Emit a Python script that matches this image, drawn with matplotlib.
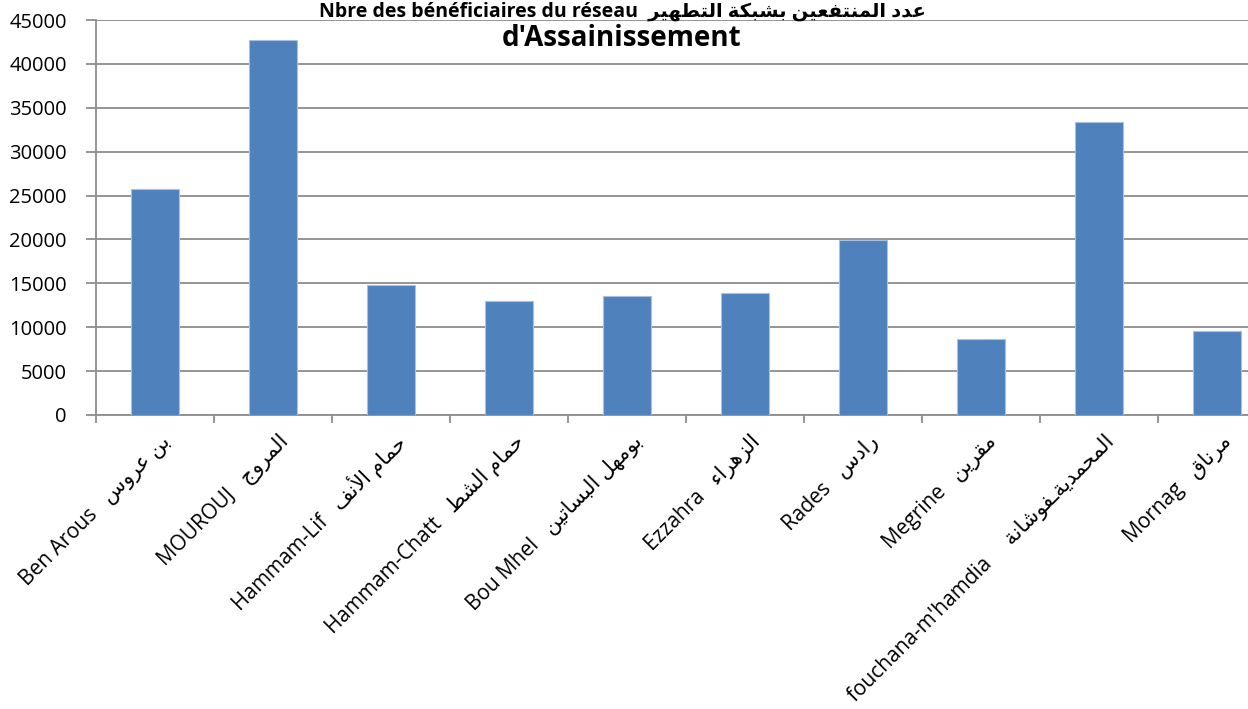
import matplotlib
matplotlib.use('Agg')
import matplotlib.pyplot as plt
import matplotlib.transforms as mtransforms
import numpy as np

# data
names_fr = ['Ben Arous', 'MOUROUJ', 'Hammam-Lif', 'Hammam-Chatt', 'Bou Mhel',
            'Ezzahra', 'Rades', 'Megrine', "fouchana-m'hamdia", 'Mornag']
names_ar = ['بن عروس', 'المروج', 'حمام الأنف', 'حمام الشط', 'بومهل البساتين',
            'الزهراء', 'رادس', 'مقرين', 'المحمديةـفوشانة', 'مرناق']
gaps = ['   ', '   ', '   ', '   ', '   ', '   ', '   ', '   ', '     ', '   ']
beneficiaires = [25800, 42700, 14800, 13000, 13600, 13850, 19900, 8700, 33400, 9550]
yticks = [0, 5000, 10000, 15000, 20000, 25000, 30000, 35000, 40000, 45000]
title_1 = 'Nbre des bénéficiaires du réseau'
title_1_ar = 'عدد المنتفعين بشبكة التطهير'
title_2 = "d'Assainissement"

# minimal arabic shaping (presentation forms), matplotlib has no bidi/shaping
FORMS = {
    'ء': (0xFE80, 'U'), 'آ': (0xFE81, 'R'), 'أ': (0xFE83, 'R'), 'إ': (0xFE87, 'R'),
    'ا': (0xFE8D, 'R'), 'ب': (0xFE8F, 'D'), 'ة': (0xFE93, 'R'), 'ت': (0xFE95, 'D'),
    'ج': (0xFE9D, 'D'), 'ح': (0xFEA1, 'D'), 'د': (0xFEA9, 'R'), 'ر': (0xFEAD, 'R'),
    'ز': (0xFEAF, 'R'), 'س': (0xFEB1, 'D'), 'ش': (0xFEB5, 'D'), 'ط': (0xFEC1, 'D'),
    'ع': (0xFEC9, 'D'), 'ف': (0xFED1, 'D'), 'ق': (0xFED5, 'D'), 'ك': (0xFED9, 'D'),
    'ل': (0xFEDD, 'D'), 'م': (0xFEE1, 'D'), 'ن': (0xFEE5, 'D'), 'ه': (0xFEE9, 'D'),
    'و': (0xFEED, 'R'), 'ي': (0xFEF1, 'D'),
}
LAM_ALEF = {'آ': 0xFEF5, 'أ': 0xFEF7, 'إ': 0xFEF9, 'ا': 0xFEFB}


def shape(text):
    tokens = []
    i = 0
    while i < len(text):
        if text[i] == 'ل' and i + 1 < len(text) and text[i + 1] in LAM_ALEF:
            tokens.append(('LA', text[i + 1]))
            i += 2
        else:
            tokens.append(text[i])
            i += 1

    def jt(t):
        if isinstance(t, tuple):
            return 'R'
        if t == 'ـ':
            return 'D'
        return FORMS[t][1] if t in FORMS else 'U'

    out = []
    for k, t in enumerate(tokens):
        prev = tokens[k - 1] if k > 0 else None
        nxt = tokens[k + 1] if k + 1 < len(tokens) else None
        jp = prev is not None and jt(prev) == 'D' and jt(t) != 'U'
        jn = nxt is not None and jt(t) == 'D' and jt(nxt) != 'U'
        if isinstance(t, tuple):
            out.append(chr(LAM_ALEF[t[1]] + int(jp)))
        elif t not in FORMS:
            out.append(t)
        else:
            base, kind = FORMS[t]
            if kind == 'U':
                out.append(chr(base))
            elif kind == 'R':
                out.append(chr(base + int(jp)))
            else:
                out.append(chr(base + [[0, 2], [1, 3]][jp][jn]))
    return ''.join(out)[::-1]


plt.rcParams['font.family'] = ['Open Sans', 'DejaVu Sans']

fig = plt.figure(figsize=(12.48, 7.09), dpi=100)
ax = fig.add_axes([96 / 1248, 1 - 415 / 709, 1180 / 1248, 395 / 709])

x = np.arange(len(beneficiaires))
ax.bar(x, beneficiaires, width=0.4, color='#4F81BD', edgecolor='#A9C1DF',
       linewidth=0.8, zorder=3)

ax.set_xlim(-0.5, len(x) - 0.5)
ax.set_ylim(0, 45000)
ax.set_yticks(yticks)
ax.set_yticklabels([str(v) for v in yticks], fontsize=14.5)
ax.yaxis.grid(True, color='#8C8C8C', linewidth=1.3, zorder=0)

labels = [f + g + shape(a) for f, g, a in zip(names_fr, gaps, names_ar)]
ax.set_xticks(x)
ax.set_xticklabels(labels, rotation=45, ha='right', va='center',
                   rotation_mode='anchor', fontsize=15)
ax.tick_params(axis='x', length=0, pad=17)
shift = mtransforms.ScaledTranslation(12 / 100, 0, fig.dpi_scale_trans)
for lab in ax.get_xticklabels():
    lab.set_transform(lab.get_transform() + shift)
ax.set_xticks(np.arange(-0.5, len(x), 1.0), minor=True)
ax.tick_params(axis='x', which='minor', length=6, width=1.3, color='#8C8C8C')
ax.tick_params(axis='y', length=7, width=1.3, color='#8C8C8C', pad=14)

for s in ['top', 'right']:
    ax.spines[s].set_visible(False)
for s in ['left', 'bottom']:
    ax.spines[s].set_color('#8C8C8C')
    ax.spines[s].set_linewidth(1.3)

fig.text(622 / 1248, 1 - 17 / 709, title_1 + '  ' + shape(title_1_ar),
         ha='center', va='baseline', fontsize=14, fontweight='bold')
fig.text(622 / 1248, 1 - 46 / 709, title_2, ha='center', va='baseline',
         fontsize=20, fontweight='bold')

fig.savefig('out.png', dpi=100)
